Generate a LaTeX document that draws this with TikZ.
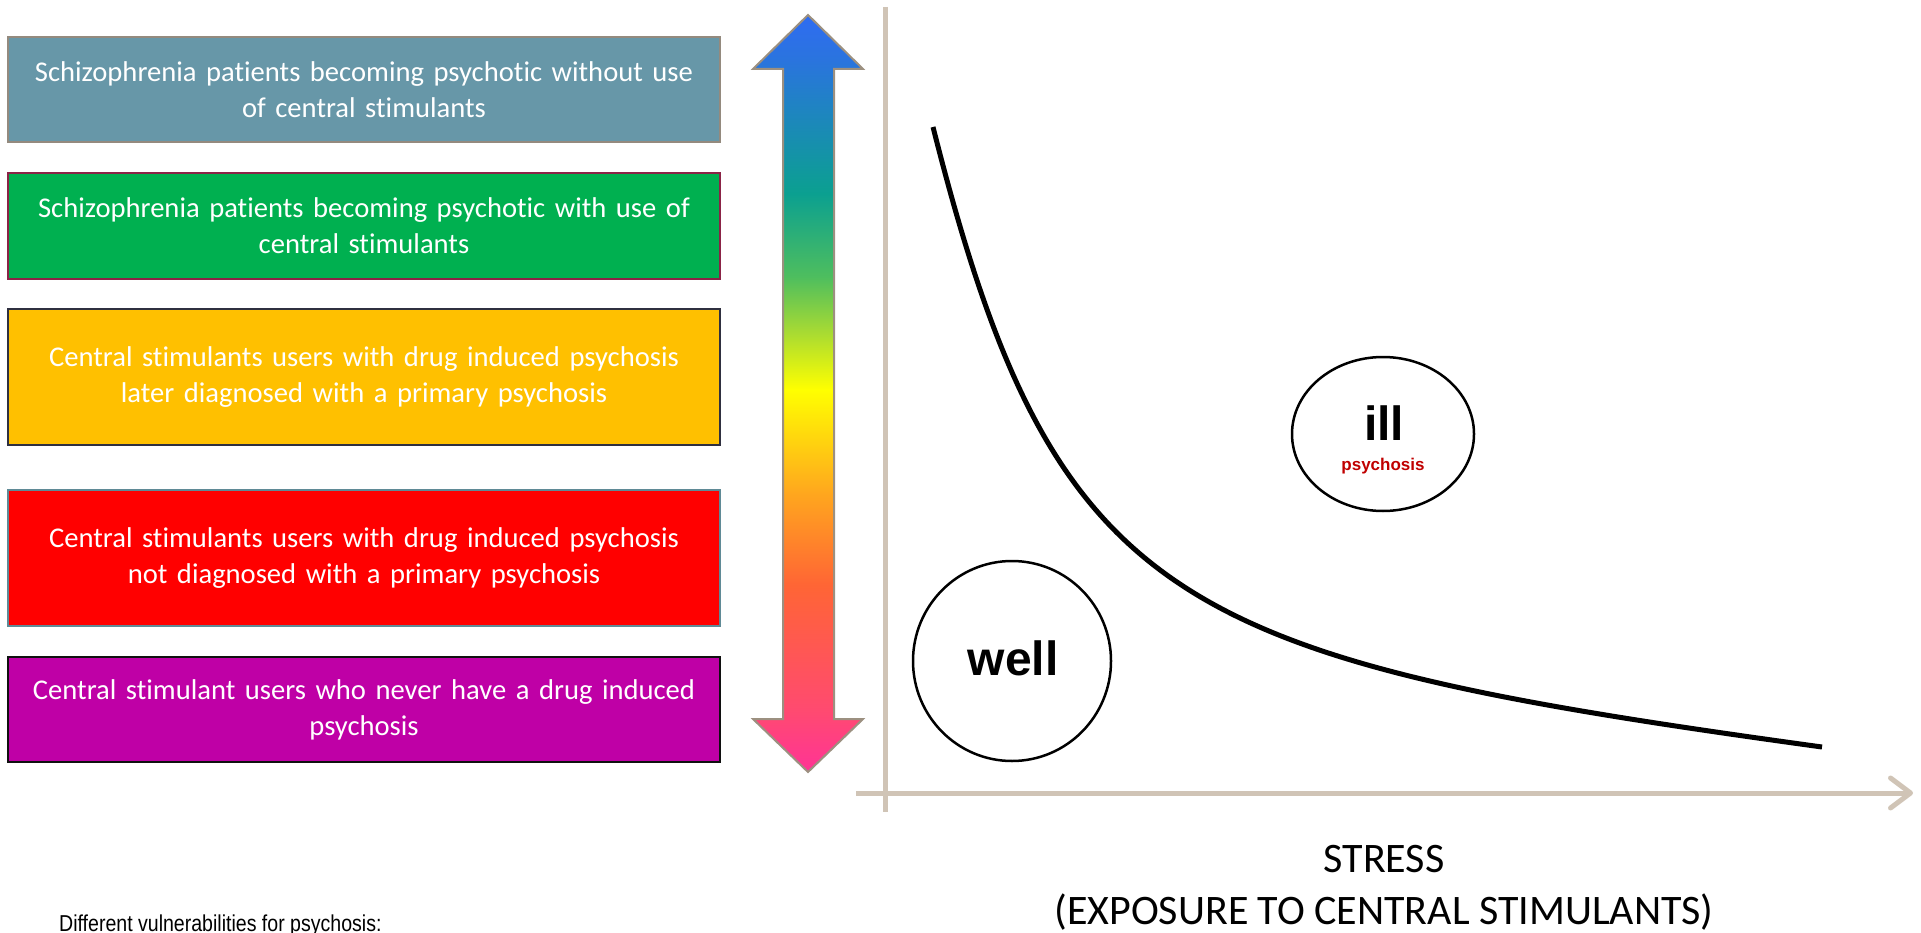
\documentclass[tikz,border=0pt]{standalone}
\usepackage{fontspec}
\usepackage{graphicx}
\setmainfont{Carlito}[Ligatures=NoCommon]
\newfontfamily\arialf{Liberation Sans}
\usetikzlibrary{arrows.meta,shapes.geometric}
\definecolor{boxA}{HTML}{6797A8}
\definecolor{boxAd}{HTML}{948A7E}
\definecolor{boxB}{HTML}{00B050}
\definecolor{boxBd}{HTML}{8B2346}
\definecolor{boxC}{HTML}{FFC000}
\definecolor{boxCd}{HTML}{2F3040}
\definecolor{boxD}{HTML}{FF0000}
\definecolor{boxDd}{HTML}{5F8A96}
\definecolor{boxE}{HTML}{BF00A6}
\definecolor{boxEd}{HTML}{101010}
\definecolor{axisc}{HTML}{D0C4B6}
\definecolor{arrowd}{HTML}{9C9080}
\definecolor{psyred}{HTML}{C00000}
\definecolor{ca}{HTML}{2F6CF2}
\definecolor{cb}{HTML}{2A74DE}
\definecolor{cc}{HTML}{0BA090}
\definecolor{cd}{HTML}{4EBE5E}
\definecolor{ce}{HTML}{A3D935}
\definecolor{cf}{HTML}{FFFF00}
\definecolor{cg}{HTML}{FFA61E}
\definecolor{ch}{HTML}{FF6535}
\definecolor{ci}{HTML}{FF4A70}
\definecolor{cj}{HTML}{FF3396}
\pgfdeclareverticalshading{rainbowarrow}{100bp}{color(0bp)=(cj); color(25bp)=(cj); color(29.1bp)=(ci); color(37.35bp)=(ch); color(43.35bp)=(cg); color(50.25bp)=(cf); color(54.25bp)=(ce); color(57.7bp)=(cd); color(63.2bp)=(cc); color(72.05bp)=(cb); color(75bp)=(ca); color(100bp)=(ca)}
\tikzset{
  catbox/.style={rectangle, line width=2pt, minimum width=712pt, inner sep=0pt,
    text width=704pt, align=center, text=white,
    font=\fontsize{28.6}{36}\selectfont},
  axisline/.style={draw=axisc, line width=5pt},
  region/.style={draw=black, line width=2.5pt, ellipse, inner sep=0pt},
}
\begin{document}
\begin{tikzpicture}[x=1pt,y=-1pt]
\useasboundingbox (0,0) rectangle (1921,933);

% category boxes
\node[catbox, fill=boxA, draw=boxAd, minimum height=105pt] (b1) at (364,89.5)
  {Schizophrenia patients becoming psychotic without use\\of central stimulants};
\node[catbox, fill=boxB, draw=boxBd, minimum height=106pt] (b2) at (364,226)
  {Schizophrenia patients becoming psychotic with use of\\central stimulants};
\node[catbox, fill=boxC, draw=boxCd, minimum height=136pt] (b3) at (364,377)
  {Central stimulants users with drug induced psychosis\\later diagnosed with a primary psychosis};
\node[catbox, fill=boxD, draw=boxDd, minimum height=136pt] (b4) at (364,558)
  {Central stimulants users with drug induced psychosis\\not diagnosed with a primary psychosis};
\node[catbox, fill=boxE, draw=boxEd, minimum height=105pt] (b5) at (364,709.5)
  {Central stimulant users who never have a drug induced\\psychosis};

% rainbow double arrow
\path[draw=arrowd, line width=2pt, shading=rainbowarrow]
  (808,15) -- (863,69) -- (834,69) -- (834,719) -- (863,719) -- (808,772)
  -- (753,719) -- (783,719) -- (783,69) -- (753,69) -- cycle;

% axes
\coordinate (ytop) at (885,7);
\coordinate (ybot) at (885,812);
\coordinate (xleft) at (856,793);
\coordinate (xright) at (1913,793);
\draw[axisline] (ytop) -- (ybot);
\draw[axisline, -{Straight Barb[length=20pt,width=30pt,line cap=round,line join=round]}] (xleft) -- (xright);

% curve
\coordinate (cstart) at (933,127);
\coordinate (cend) at (1822,747);
\draw[line width=5pt] (cstart) .. controls (1055,610) and (1176,658) .. (cend);

% regions
\node[region, minimum width=198pt, minimum height=200pt] (well) at (1012,661) {};
\node[font=\arialf\bfseries\fontsize{48}{50}\selectfont] (welltxt) at (1013,658) {well};
\node[region, minimum width=182pt, minimum height=154pt] (ill) at (1383,434) {};
\node[font=\arialf\bfseries\fontsize{48}{50}\selectfont] (illtxt) at (1384,423) {ill};
\node[font=\arialf\bfseries\fontsize{17}{20}\selectfont, text=psyred] (psytxt) at (1383,466) {psychosis};

% axis label
\node[align=center, font=\fontsize{42}{52}\selectfont] (stress) at (1384,888)
  {STRESS\\(EXPOSURE TO CENTRAL STIMULANTS)};

% caption
\node[anchor=base west, inner sep=0pt, font=\arialf\fontsize{23}{24}\selectfont] (cap) at (59,931)
  {\scalebox{0.85}[1]{Different vulnerabilities for psychosis:}};
\end{tikzpicture}
\end{document}
